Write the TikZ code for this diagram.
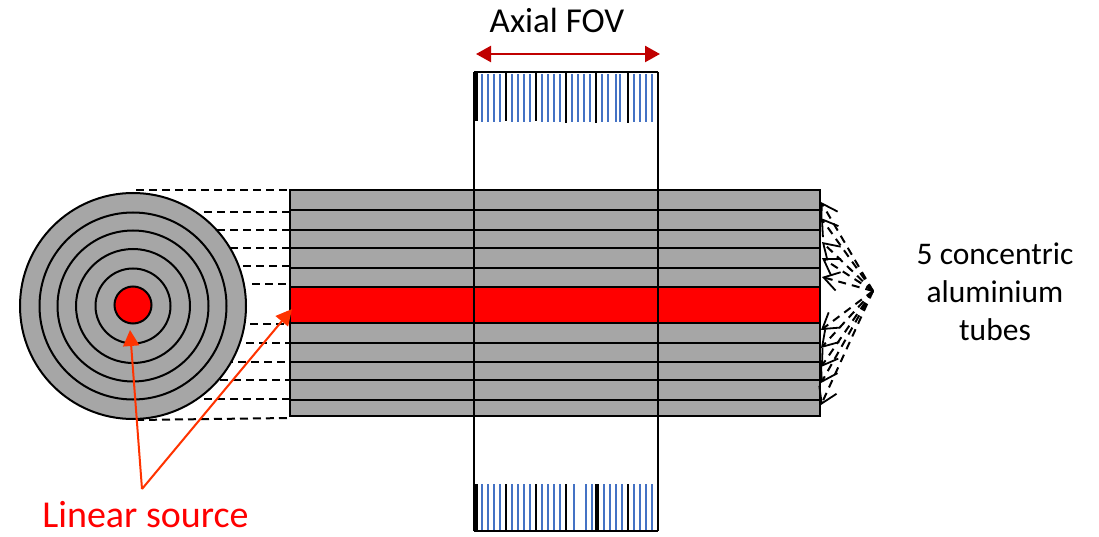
\documentclass[tikz,border=0pt]{standalone}
\usepackage{fontspec}
\setmainfont{Carlito}
\usetikzlibrary{arrows.meta}
\definecolor{rodgray}{HTML}{A6A6A6}
\definecolor{fovred}{HTML}{C00000}
\definecolor{callout}{HTML}{FF3300}
\definecolor{crystal}{HTML}{4472C4}
\tikzset{
  rodline/.style={draw=black,line width=2pt},
  ring/.style={draw=black,line width=2pt,fill=rodgray},
  guide/.style={draw=black,line width=2pt,dash pattern=on 8pt off 5pt},
  fan/.style={draw=black,line width=2pt,dash pattern=on 8pt off 6pt,-{Straight Barb[length=15pt,width=19pt,line width=1.8pt]}},
  calloutarrow/.style={draw=callout,line width=2pt,-{Triangle[length=16pt,width=16pt]}},
  fovarrow/.style={draw=fovred,line width=2.4pt,{Triangle[length=15pt,width=16pt]}-{Triangle[length=15pt,width=16pt]}},
  crystalline/.style={draw=crystal,line width=2.3pt},
  septum/.style={draw=black,line width=2pt},
  label/.style={font=\fontsize{31.5}{38}\selectfont,align=center,inner sep=0pt}
}
\begin{document}
\begin{tikzpicture}[x=1pt,y=-1pt]
\useasboundingbox (0,0) rectangle (1099,537);
% guide lines from the circle to the rod
\foreach \sx/\yy in {136/190,204/212,217/230,230/248,243/266,252/284,250/324,246/343,225/362,220/380,204/399}
  \draw[guide] (\sx,\yy) -- (289,\yy);
\coordinate (bgA) at (136,420);
\coordinate (bgB) at (289,418);
\draw[guide] (bgA) -- (bgB);
% end view
\node[ring,circle,inner sep=0pt,minimum size=226pt] (c1) at (133,306) {};
\node[ring,circle,inner sep=0pt,minimum size=187pt] (c2) at (133,306) {};
\node[ring,circle,inner sep=0pt,minimum size=151pt] (c3) at (133,306) {};
\node[ring,circle,inner sep=0pt,minimum size=114pt] (c4) at (133,306) {};
\node[ring,circle,inner sep=0pt,minimum size=75pt] (c5) at (133,306) {};
\node[ring,circle,fill=red,inner sep=0pt,minimum size=37pt] (src) at (133,305) {};
% rod
\fill[rodgray] (290,190) rectangle (820,416);
\fill[red] (290,287) rectangle (820,323);
\foreach \yy in {210,230,248,268,287,323,343,362,380,400}
  \draw[rodline] (290,\yy) -- (820,\yy);
\draw[rodline] (290,190) rectangle (820,416);
% scanner outline
\draw[rodline] (474,72) -- (474,531);
\draw[rodline] (658,72) -- (658,531);
\draw[rodline] (474,72) -- (658,72);
\draw[rodline] (474,531) -- (658,531);
% top detector
\foreach \xx in {482,488,494,500,512,518,524,530,542,548,554,560,572,578,584,590,602,608,616,620,634,640,646,652}
  \draw[crystalline] (\xx,74) -- (\xx,122);
\draw[black,line width=4pt] (475.5,72) -- (475.5,121);
\foreach \xx/\yy in {506/121,536/121,566/123,596/123,628/123}
  \draw[septum] (\xx,72) -- (\xx,\yy);
% bottom detector
\foreach \xx in {482,488,494,500,512,518,524,530,542,548,554,560,574,586,592,604,610,616,622,634,640,646,652}
  \draw[crystalline] (\xx,484) -- (\xx,530);
\draw[black,line width=4pt] (475.5,484) -- (475.5,531);
\draw[black,line width=4pt] (596.5,484) -- (596.5,531);
\foreach \xx in {506,536,566,628}
  \draw[septum] (\xx,484) -- (\xx,531);
% axial FOV
\coordinate (fovL) at (476,54);
\coordinate (fovR) at (660,54);
\draw[fovarrow] (fovL) -- (fovR);
\node[label,font=\fontsize{35}{42}\selectfont] (fov) at (557,20) {Axial FOV};
% tube labels
\node[label] (tubes) at (995,292) {5 concentric\\aluminium\\tubes};
\coordinate (hub) at (873,291);
\foreach \tx/\ty in {821/202,821/218,822/242,822/258,822/277,821/330,821/348,821/367,821/383,821/405}
  \draw[fan] (hub) -- (\tx,\ty);
% linear source
\node[label,text=red,font=\fontsize{38}{46}\selectfont] (lin) at (145.5,515) {Linear source};
\coordinate (linTop) at (142,489);
\coordinate (tipA) at (130,330);
\coordinate (tipB) at (292,309);
\draw[calloutarrow] (linTop) -- (tipA);
\draw[calloutarrow] (linTop) -- (tipB);
\end{tikzpicture}
\end{document}
